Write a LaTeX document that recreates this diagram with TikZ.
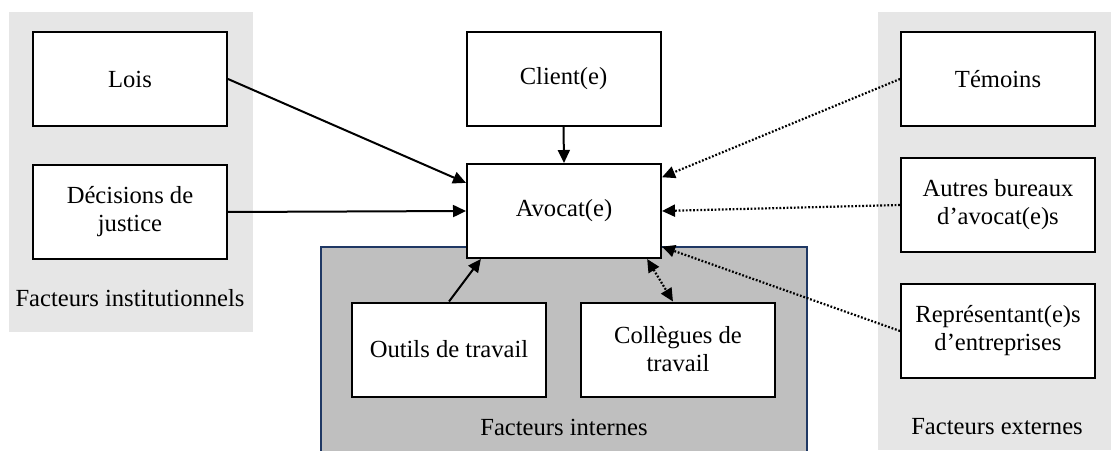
\documentclass[tikz,border=0pt]{standalone}
\usepackage{fontspec}
\setmainfont{Liberation Serif}
\usetikzlibrary{arrows.meta}
\definecolor{panelgris}{HTML}{E6E6E6}
\definecolor{internegris}{HTML}{BFBFBF}
\definecolor{bordbleu}{HTML}{1F3864}
\tikzset{
  boite/.style={draw,line width=1pt,fill=white,minimum width=97pt,minimum height=47pt,align=center,font=\fontsize{12.3}{14}\selectfont},
  legende/.style={font=\fontsize{12.3}{14}\selectfont},
  fleche/.style={line width=1pt,-{Triangle[length=6.5pt,width=6pt]}},
  pointille/.style={fleche,line width=1.1pt,dash pattern=on 0.9pt off 0.9pt},
  pointilledouble/.style={pointille,{Triangle[length=6.5pt,width=6pt]}-{Triangle[length=6.5pt,width=6pt]}}
}
\begin{document}
\begin{tikzpicture}[x=0.5pt,y=0.5pt]
\useasboundingbox (0,0) rectangle (1111,450);

\fill[panelgris](9,118) rectangle (253,438);
\fill[panelgris](878,0) rectangle (1111,438);
\draw[bordbleu,fill=internegris,line width=0.8pt](321,-5) rectangle (807,203);

\node[boite] (lois) at (130,371) {Lois};
\node[boite] (decisions) at (130,238) {Décisions de\\justice};
\node[legende] (institutionnels) at (130,152) {Facteurs institutionnels};

\node[boite] (client) at (563.5,371) {Client(e)};
\node[boite] (avocat) at (564,239) {Avocat(e)};
\node[boite] (outils) at (449,100.5) {Outils de travail};
\node[boite] (collegues) at (678,100.5) {Collègues de\\travail};
\node[legende] (internes) at (564,23) {Facteurs internes};

\node[boite] (temoins) at (998,371) {Témoins};
\node[boite] (bureaux) at (998,245) {Autres bureaux\\d’avocat(e)s};
\node[boite] (representants) at (998,119) {Représentant(e)s\\d’entreprises};
\node[legende] (externes) at (997,23) {Facteurs externes};

\draw[fleche](lois.east) to (avocat.164);
\draw[fleche](decisions.east) to (avocat.west);
\draw[fleche](client.south) to (avocat.north);
\draw[fleche](outils.north) to (avocat.210);
\draw[pointilledouble](avocat.-30) to (collegues.96);
\draw[pointille](temoins.west) to (avocat.19);
\draw[pointille](bureaux.west) to (avocat.east);
\draw[pointille](representants.west) to (avocat.-20);
\end{tikzpicture}
\end{document}
